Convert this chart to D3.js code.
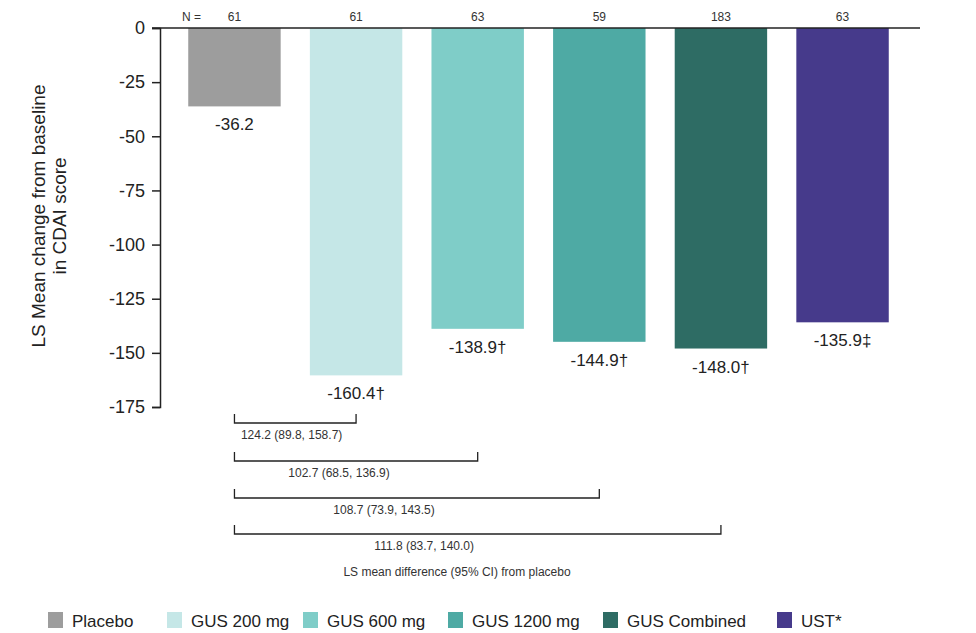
<!DOCTYPE html>
<html>
<head>
<meta charset="utf-8">
<script src="https://cdn.jsdelivr.net/npm/d3@7"></script>
<style>
  body { margin: 0; background: #fff; }
  svg { font-family: "Liberation Sans", Arial, sans-serif; }
</style>
</head>
<body>
<svg id="chart" width="976" height="633"></svg>
<script>
const groups = ["Placebo", "GUS 200 mg", "GUS 600 mg", "GUS 1200 mg", "GUS Combined", "UST*"];
const values = [-36.2, -160.4, -138.9, -144.9, -148.0, -135.9];
const marks = ["", "\u2020", "\u2020", "\u2020", "\u2020", "\u2021"];
const nCounts = [61, 61, 63, 59, 183, 63];
const colors = ["#9d9d9d", "#c5e7e7", "#7fcdc8", "#4eaaa4", "#2e6c64", "#463a8b"];
const yTicks = [0, -25, -50, -75, -100, -125, -150, -175];

// LS mean difference vs placebo, bracket runs from placebo to this group
const diffTargets = ["GUS 200 mg", "GUS 600 mg", "GUS 1200 mg", "GUS Combined"];
const diffLabels = ["124.2 (89.8, 158.7)", "102.7 (68.5, 136.9)", "108.7 (73.9, 143.5)", "111.8 (83.7, 140.0)"];

const svg = d3.select("#chart");

const x = d3.scaleBand().domain(groups).range([170, 907]).paddingInner(0.24).paddingOuter(0.15);
const y = d3.scaleLinear().domain([0, -175]).range([28, 407]);

// bars
svg.append("g").selectAll("rect")
  .data(groups)
  .enter().append("rect")
  .attr("x", d => x(d))
  .attr("y", y(0))
  .attr("width", x.bandwidth())
  .attr("height", (d, i) => y(values[i]) - y(0))
  .attr("fill", (d, i) => colors[i]);

// value labels
svg.append("g").selectAll("text")
  .data(groups)
  .enter().append("text")
  .attr("x", d => x(d) + x.bandwidth() / 2)
  .attr("y", (d, i) => y(values[i]) + 24)
  .attr("text-anchor", "middle")
  .attr("font-size", 17)
  .attr("fill", "#222")
  .text((d, i) => values[i].toFixed(1) + marks[i]);

// N row
svg.append("g").selectAll("text")
  .data(groups)
  .enter().append("text")
  .attr("x", d => x(d) + x.bandwidth() / 2)
  .attr("y", 21)
  .attr("text-anchor", "middle")
  .attr("font-size", 12)
  .attr("fill", "#333")
  .text((d, i) => nCounts[i]);
svg.append("text")
  .attr("x", 182).attr("y", 21)
  .attr("font-size", 12).attr("fill", "#333")
  .text("N =");

// y axis
const yAxis = svg.append("g")
  .attr("transform", "translate(160,0)")
  .call(d3.axisLeft(y).tickValues(yTicks).tickSize(8).tickPadding(7).tickFormat(d => String(d)));
yAxis.select(".domain").attr("stroke", "#222").attr("stroke-width", 1.5);
yAxis.selectAll(".tick line").attr("stroke", "#222").attr("stroke-width", 1.5);
yAxis.selectAll(".tick text").attr("font-size", 18).attr("fill", "#222")
  .attr("font-family", "'Liberation Sans', Arial, sans-serif");

// zero line
svg.append("line")
  .attr("x1", 152).attr("x2", 920)
  .attr("y1", y(0)).attr("y2", y(0))
  .attr("stroke", "#222").attr("stroke-width", 1.5);

// y title
const yt = svg.append("text")
  .attr("transform", "translate(0,216) rotate(-90)")
  .attr("text-anchor", "middle")
  .attr("font-size", 19)
  .attr("fill", "#222");
yt.append("tspan").attr("x", 0).attr("y", 45).text("LS Mean change from baseline");
yt.append("tspan").attr("x", 0).attr("y", 66).text("in CDAI score");

// difference brackets
const cx = d => x(d) + x.bandwidth() / 2;
const bracketY = [423, 461, 498, 534];
const br = svg.append("g");
diffTargets.forEach((g, i) => {
  const x0 = cx("Placebo"), x1 = cx(g), by = bracketY[i];
  br.append("path")
    .attr("d", `M${x0},${by - 9}V${by}H${x1}V${by - 9}`)
    .attr("fill", "none")
    .attr("stroke", "#222")
    .attr("stroke-width", 1.3);
  br.append("text")
    .attr("x", x0 + (x1 - x0) * (i === 0 ? 0.47 : 0.45 - i * 0.02))
    .attr("y", by + 16)
    .attr("text-anchor", "middle")
    .attr("font-size", 12)
    .attr("fill", "#333")
    .text(diffLabels[i]);
});
br.append("text")
  .attr("x", 457).attr("y", 576)
  .attr("text-anchor", "middle")
  .attr("font-size", 12)
  .attr("fill", "#333")
  .text("LS mean difference (95% CI) from placebo");

// legend
const legendX = [48, 167, 303, 448, 603, 777];
const lg = svg.append("g").selectAll("g")
  .data(groups)
  .enter().append("g")
  .attr("transform", (d, i) => `translate(${legendX[i]},612)`);
lg.append("rect")
  .attr("width", 15).attr("height", 16)
  .attr("fill", (d, i) => colors[i]);
lg.append("text")
  .attr("x", 24).attr("y", 15)
  .attr("font-size", 17)
  .attr("fill", "#222")
  .text(d => d);
</script>
</body>
</html>
